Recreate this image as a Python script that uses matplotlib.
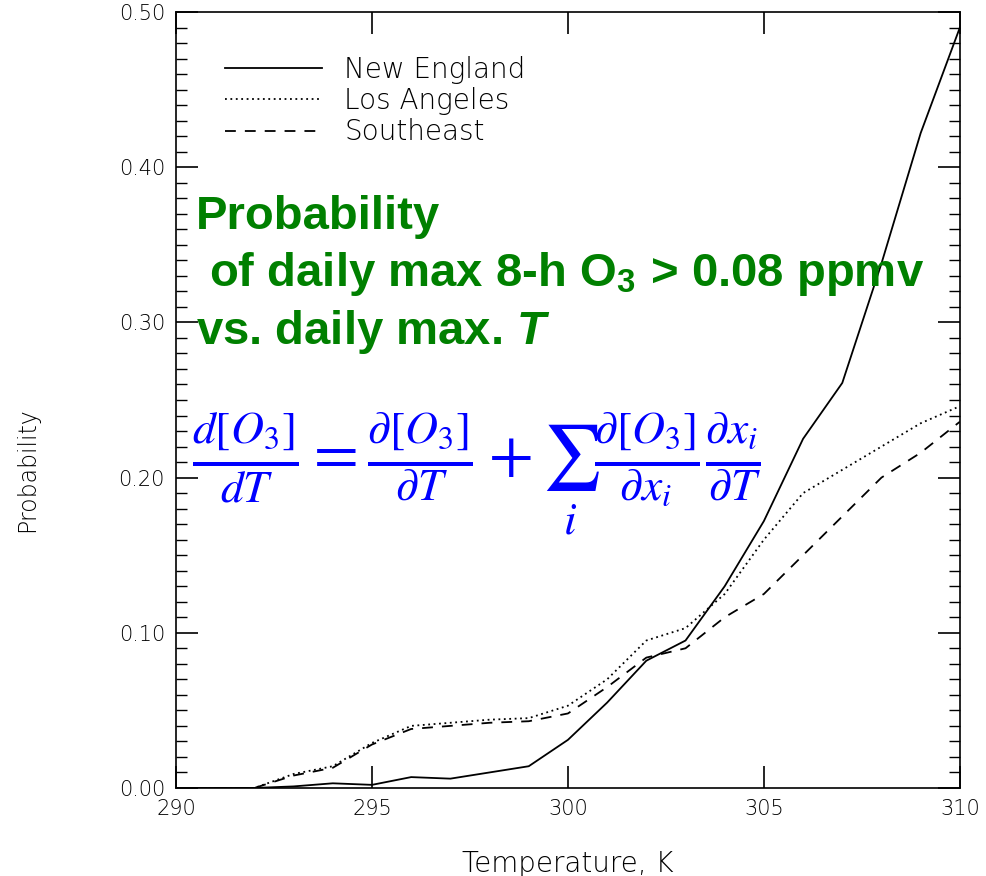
import matplotlib
matplotlib.use('Agg')
import matplotlib.pyplot as plt

# Datos
temperatura = [290, 291, 292, 293, 294, 295, 296, 297, 298, 299, 300,
               301, 302, 303, 304, 305, 306, 307, 308, 309, 310]
new_england = [0.0, 0.0, 0.0, 0.001, 0.003, 0.002, 0.007, 0.006, 0.010, 0.014, 0.031,
               0.055, 0.082, 0.095, 0.130, 0.172, 0.225, 0.261, 0.338, 0.422, 0.490]
los_angeles = [0.0, 0.0, 0.0, 0.009, 0.014, 0.029, 0.040, 0.042, 0.044, 0.045, 0.053,
               0.070, 0.095, 0.103, 0.125, 0.160, 0.190, 0.205, 0.220, 0.235, 0.246]
southeast = [0.0, 0.0, 0.0, 0.008, 0.013, 0.028, 0.038, 0.040, 0.042, 0.043, 0.048,
             0.065, 0.084, 0.090, 0.110, 0.125, 0.150, 0.175, 0.200, 0.216, 0.236]

xticks = [290, 295, 300, 305, 310]
yticks = [0.0, 0.1, 0.2, 0.3, 0.4, 0.5]
ytick_labels = ['0.00', '0.10', '0.20', '0.30', '0.40', '0.50']

# fuentes: ecuacion en estilo Times, texto verde en Arial negrita
plt.rcParams['mathtext.fontset'] = 'custom'
plt.rcParams['mathtext.rm'] = 'STIXGeneral'
plt.rcParams['mathtext.it'] = 'STIXGeneral:italic'
plt.rcParams['mathtext.bf'] = 'Liberation Sans:bold'
plt.rcParams['mathtext.bfit'] = 'Liberation Sans:bold:italic'
plt.rcParams['mathtext.fallback'] = 'stix'

fig = plt.figure(figsize=(9.86, 8.76), dpi=100)
ax = fig.add_axes([0.1785, 0.1005, 0.795, 0.8858])

ax.plot(temperatura, new_england, color='black', lw=1.3, linestyle='-', label='New England')
ax.plot(temperatura, los_angeles, color='black', lw=1.3, linestyle=(0, (1, 2)), label='Los Angeles')
ax.plot(temperatura, southeast, color='black', lw=1.3, linestyle=(0, (6, 5)), label='Southeast')

ax.set_xlim(290, 310)
ax.set_ylim(0, 0.5)
ax.set_xticks(xticks)
ax.set_xticklabels([str(t) for t in xticks])
ax.set_yticks(yticks)
ax.set_yticklabels(ytick_labels)
ax.set_yticks([i / 100 for i in range(51)], minor=True)
ax.tick_params(axis='both', which='major', direction='in', top=True, right=True,
               length=16, width=1.2, labelsize=15, pad=8)
ax.tick_params(axis='y', which='minor', direction='in', right=True, length=8, width=1.0)
for lab in ax.get_xticklabels() + ax.get_yticklabels():
    lab.set_fontweight('light')
for s in ax.spines.values():
    s.set_linewidth(1.2)

ax.set_xlabel('Temperature, K', fontsize=20, fontweight='light', labelpad=22)
ax.set_ylabel('Probability', fontsize=17, fontweight='light')
ax.yaxis.set_label_coords(-0.175, 0.41)

leg = ax.legend(loc='upper left', bbox_to_anchor=(0.048, 0.958), frameon=False,
                borderaxespad=0, fontsize=20, handlelength=3.5, handletextpad=0.8,
                labelspacing=0.12)
for t in leg.get_texts():
    t.set_fontweight('light')

ax.text(0.025, 0.764,
        'Probability\n of daily max 8-h O$_\\mathbf{3}$ > 0.08 ppmv\nvs. daily max. $\\mathbfit{T}$',
        transform=ax.transAxes, color='#008000', fontsize=34, fontweight='bold',
        family='Liberation Sans', va='top', ha='left', linespacing=1.29)

ax.text(0.02, 0.405,
        r'$\frac{d[O_3]}{dT} = \frac{\partial[O_3]}{\partial T} + \sum_i \frac{\partial[O_3]}{\partial x_i}\frac{\partial x_i}{\partial T}$',
        transform=ax.transAxes, color='#0000ff', fontsize=47, va='center', ha='left')

fig.savefig('out.png', dpi=100)
